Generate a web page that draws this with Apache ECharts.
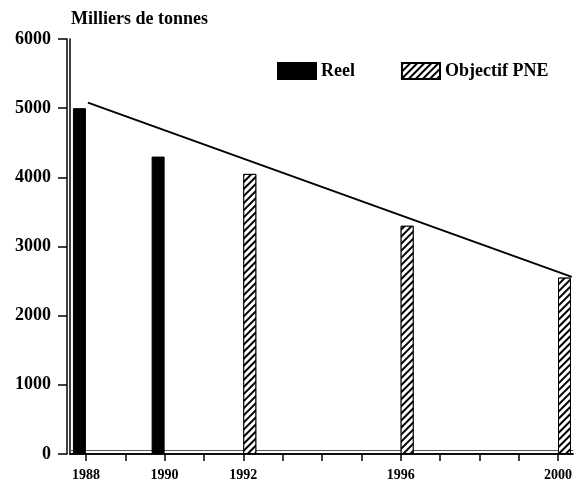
<!DOCTYPE html>
<html>
<head>
<meta charset="utf-8">
<script src="https://cdn.jsdelivr.net/npm/echarts@6/dist/echarts.min.js"></script>
<style>html,body{margin:0;padding:0;background:#fff;}#c{width:575px;height:484px;}</style>
</head>
<body>
<div id="c"></div>
<script>
var tickYears = [1988,1989,1990,1991,1992,1993,1994,1995,1996,1997,1998,1999,2000];
var labelYears = [1988,1990,1992,1996,2000];
var reelYears = [1988,1990];
var reelValues = [5000,4300];
var objYears = [1992,1996,2000];
var objValues = [4050,3300,2550];
var trendYears = [1988.05,2000.35];
var trendValues = [5080,2560];

var FONT = '"Liberation Serif", "DejaVu Serif", serif';
var chart = echarts.init(document.getElementById('c'));
function pairs(xs, ys){ return xs.map(function(x,i){ return [x, ys[i]]; }); }
function plain(v){ return String(v); }

chart.setOption({
  animation: false,
  backgroundColor: '#fff',
  title: {
    text: 'Milliers de tonnes', left: 66, top: 5,
    textStyle: {fontFamily: FONT, fontWeight: 'bold', fontSize: 18, color: '#000'}
  },
  legend: {
    left: 272, top: 57, itemWidth: 38, itemHeight: 16, itemGap: 46,
    icon: 'rect',
    textStyle: {fontFamily: FONT, fontWeight: 'bold', fontSize: 18, color: '#000'},
    data: ['Reel', 'Objectif PNE']
  },
  grid: {left: 70, right: 0, top: 39, bottom: 30, containLabel: false},
  xAxis: [{
    type: 'value', min: 1987.595, max: 2000.38,
    axisLine: {show: true, lineStyle: {color: '#000', width: 1.5}},
    axisTick: {show: true, length: 7, customValues: tickYears, lineStyle: {color: '#000', width: 1.5}},
    axisLabel: {customValues: labelYears, formatter: plain, margin: 14, fontFamily: FONT, fontWeight: 'bold', fontSize: 14, color: '#000'},
    splitLine: {show: false}
  },{
    type: 'value', position: 'top', min: 1987.595, max: 2000.38,
    axisLine: {show: true, lineStyle: {color: '#000', width: 1.5}},
    axisTick: {show: false}, axisLabel: {show: false}, splitLine: {show: false}
  },{
    type: 'value', position: 'bottom', offset: -4, min: 1987.595, max: 2000.38,
    axisLine: {show: true, lineStyle: {color: '#555', width: 1}},
    axisTick: {show: false}, axisLabel: {show: false}, splitLine: {show: false}
  }],
  yAxis: [{
    type: 'value', min: 0, max: 6000, interval: 1000, offset: 3,
    axisLine: {show: true, lineStyle: {color: '#000', width: 1.5}},
    axisTick: {show: true, length: 9, lineStyle: {color: '#000', width: 1.5}},
    axisLabel: {formatter: plain, margin: 16, fontFamily: FONT, fontWeight: 'bold', fontSize: 18, color: '#000'},
    splitLine: {show: false}
  },{
    type: 'value', min: 0, max: 6000, interval: 1000, position: 'left', offset: 0,
    axisLine: {show: true, lineStyle: {color: '#000', width: 1.5}},
    axisTick: {show: false}, axisLabel: {show: false}, splitLine: {show: false}
  }],
  series: [{
    name: 'Reel', type: 'bar', barWidth: 13, barGap: '0%',
    itemStyle: {color: '#000', borderColor: '#000', borderWidth: 1},
    data: pairs(reelYears, reelValues)
  },{
    name: 'Objectif PNE', type: 'bar', barWidth: 13, barGap: '0%',
    itemStyle: {
      color: '#fff', borderColor: '#000', borderWidth: 1,
      decal: {symbol: 'rect', color: '#000', backgroundColor: '#fff', dashArrayX: [1, 0], dashArrayY: [1.2, 2.6], rotation: -Math.PI / 4, symbolSize: 1}
    },
    data: pairs(objYears, objValues)
  },{
    name: 'trend', type: 'line', symbol: 'none', silent: true,
    lineStyle: {color: '#000', width: 2},
    data: pairs(trendYears, trendValues)
  }]
});
</script>
</body>
</html>
